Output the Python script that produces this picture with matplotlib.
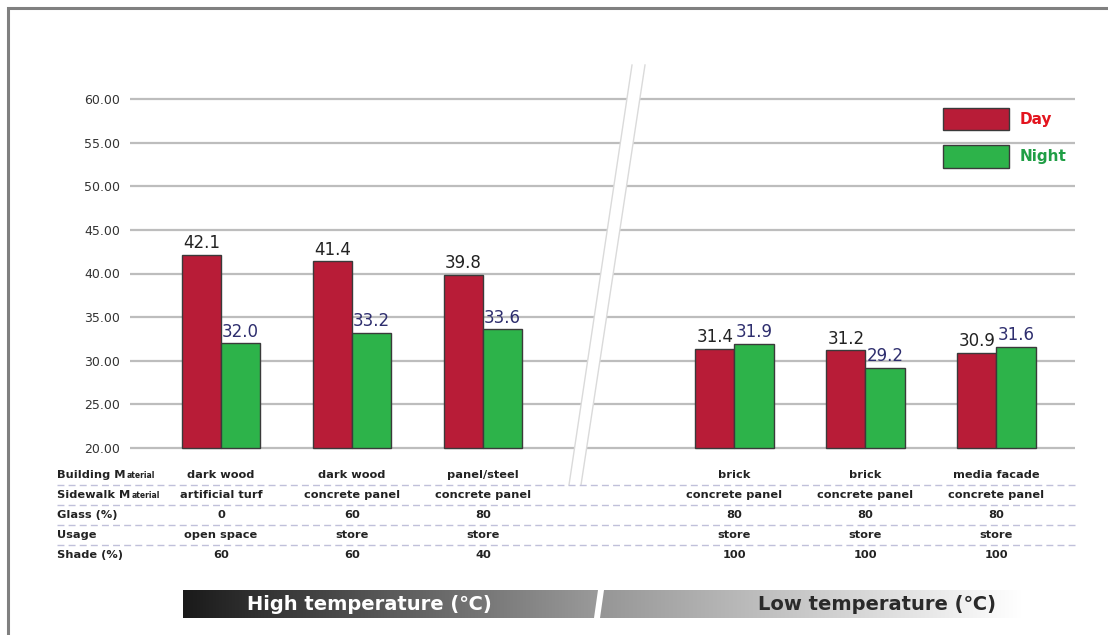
import numpy as np
import matplotlib
matplotlib.use('Agg')
import matplotlib.pyplot as plt
from matplotlib.patches import Polygon
from matplotlib.colors import LinearSegmentedColormap
from matplotlib.transforms import blended_transform_factory

#---Data
day = [42.1, 41.4, 39.8, 31.4, 31.2, 30.9]
night = [32.0, 33.2, 33.6, 31.9, 29.2, 31.6]
yticks = [20, 25, 30, 35, 40, 45, 50, 55, 60]

building = ['dark wood', 'dark wood', 'panel/steel', 'brick', 'brick', 'media facade']
sidewalk = ['artificial turf', 'concrete panel', 'concrete panel',
            'concrete panel', 'concrete panel', 'concrete panel']
glass = [0, 60, 80, 80, 80, 80]
usage = ['open space', 'store', 'store', 'store', 'store', 'store']
shade = [60, 60, 40, 100, 100, 100]

W, H = 1108, 635
DAY_C = '#b81c37'
NIGHT_C = '#2db34a'

fig = plt.figure(figsize=(W / 100, H / 100), dpi=100)
fig.patch.set_facecolor('white')

#---Main axes (pixel layout)
ymin, ymax = 19.5, 61
ppu = 8.725  # pixels per degree
ax_top = 448 - (ymax - 20) * ppu
ax_bot = 448 + (20 - ymin) * ppu
ax = fig.add_axes([130 / W, 1 - ax_bot / H, 945 / W, (ax_bot - ax_top) / H])

n = len(day)
x = np.arange(n) + np.where(np.arange(n) >= 3, 0.92, 0.0)
bw = 0.3
b1 = ax.bar(x - bw / 2, np.array(day) - 20, bw, bottom=20, color=DAY_C,
            edgecolor='#3a3a3a', linewidth=1, zorder=3, label='Day')
b2 = ax.bar(x + bw / 2, np.array(night) - 20, bw, bottom=20, color=NIGHT_C,
            edgecolor='#3a3a3a', linewidth=1, zorder=3, label='Night')
ax.bar_label(b1, labels=['%.1f' % v for v in day], padding=2, fontsize=12, color='#222222')
ax.bar_label(b2, labels=['%.1f' % v for v in night], padding=2, fontsize=12, color='#2e2e6e')

ax.set_xlim(-0.695, 6.52)
ax.set_ylim(ymin, ymax)
ax.set_yticks(yticks)
ax.set_yticklabels(['%.2f' % t for t in yticks], fontsize=9, color='#333333')
ax.set_xticks([])
ax.tick_params(axis='y', length=0, pad=7)
ax.yaxis.grid(True, color='#bdbdbd', linewidth=1.6)
ax.set_axisbelow(True)
for s in ax.spines.values():
    s.set_visible(False)
ax.patch.set_alpha(0)

leg = ax.legend(loc='upper left', bbox_to_anchor=(943 / W, 1 - 108 / H),
                bbox_transform=fig.transFigure, frameon=False,
                handlelength=4.3, handleheight=1.88, labelspacing=0.98,
                handletextpad=0.7, borderpad=0, borderaxespad=0,
                prop={'weight': 'bold', 'size': 11},
                labelcolor=['#e3141e', '#1f9e45'])

#---Overlay axes in pixel coordinates for decorations
ov = fig.add_axes([0, 0, 1, 1], zorder=1)
ov.patch.set_visible(False)
ov.axis('off')

# axis break
l1 = [(632, 65), (569, 485)]
l2 = [(645, 65), (581, 485)]
ov.add_patch(Polygon([l1[0], l2[0], l2[1], l1[1]], closed=True,
                     facecolor='white', edgecolor='none', zorder=1))
for l in (l1, l2):
    ov.plot([l[0][0], l[1][0]], [l[0][1], l[1][1]], color='#dadada', lw=1, zorder=1.1)

# table
ov.hlines([485, 505, 525, 545], 57, 1075, colors='#c0c0da',
          linestyles=(0, (5, 3)), linewidth=1, zorder=2)
tr = blended_transform_factory(ax.transData, ov.transData)
rows = [building, sidewalk, glass, usage, shade]
row_y = [475, 495, 515, 535, 555]
for vals, yy in zip(rows, row_y):
    for xi, v in zip(x, vals):
        ov.text(xi, yy, str(v), transform=tr, ha='center', va='center',
                fontsize=8.2, fontweight='bold', color='#222222', zorder=3)

renderer = fig.canvas.get_renderer()
for yy, (big, small) in zip(row_y, [('Building M', 'aterial'), ('Sidewalk M', 'aterial'),
                                    ('Glass (%)', ''), ('Usage', ''), ('Shade (%)', '')]):
    t = ov.text(57, yy, big, ha='left', va='center', fontsize=8.2,
                fontweight='bold', color='#222222', zorder=3)
    if small:
        bb = t.get_window_extent(renderer)
        ov.text(57 + bb.width + 1, yy + 1, small, ha='left', va='center', fontsize=5.5,
                fontweight='bold', color='#222222', zorder=3)

# bottom banners
grad = np.linspace(0, 1, 256).reshape(1, -1)
cm1 = LinearSegmentedColormap.from_list('b1', ['#1a1a1a', '#9a9a9a'])
cm2 = LinearSegmentedColormap.from_list('b2', ['#969696', '#ffffff'])
p1 = Polygon([(183, 590), (598, 590), (594, 618), (183, 618)], closed=True,
             facecolor='none', edgecolor='none')
p2 = Polygon([(604, 590), (1022, 590), (1022, 618), (600, 618)], closed=True,
             facecolor='none', edgecolor='none')
ov.add_patch(p1)
ov.add_patch(p2)
im1 = ov.imshow(grad, cmap=cm1, extent=(183, 598, 618, 590), aspect='auto', zorder=2)
im1.set_clip_path(p1)
im2 = ov.imshow(grad, cmap=cm2, extent=(600, 1022, 618, 590), aspect='auto', zorder=2)
im2.set_clip_path(p2)
ov.text(369, 604, 'High temperature (\u2103)', ha='center', va='center',
        fontsize=14, fontweight='bold', color='white', zorder=3)
ov.text(877, 604, 'Low temperature (\u2103)', ha='center', va='center',
        fontsize=14, fontweight='bold', color='#2a2a2a', zorder=3)

# outer frame
ov.plot([8, 8, W], [H, 8, 8], color='#808080', lw=2.2, solid_joinstyle='miter', zorder=3)

ov.set_xlim(0, W)
ov.set_ylim(H, 0)

fig.savefig('out.png', dpi=100)
